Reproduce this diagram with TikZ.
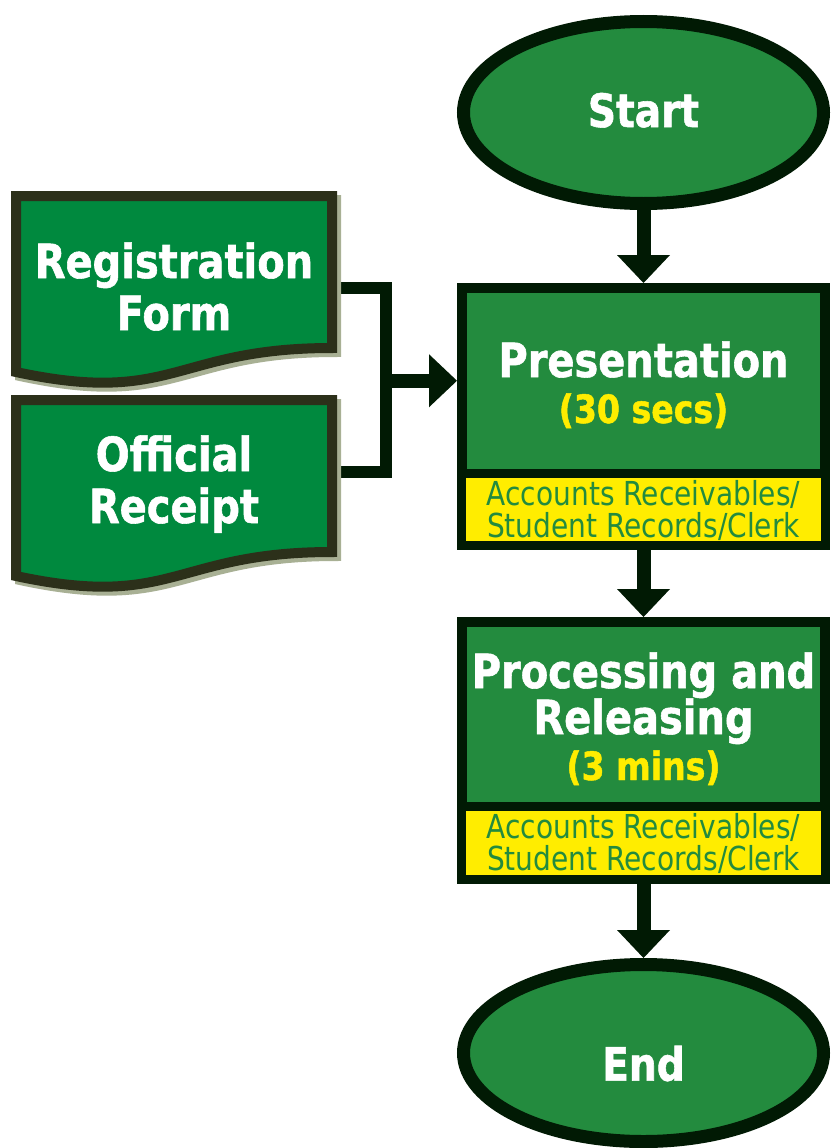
\documentclass[tikz,border=0pt]{standalone}
\usepackage{fontspec}
\newfontfamily\flowfont[FakeStretch=0.85]{DejaVu Sans}
\newfontfamily\flowbold[FakeStretch=0.85, FakeBold=1.2]{DejaVu Sans Bold}
\usetikzlibrary{arrows.meta,shapes.geometric,backgrounds}

\definecolor{procgreen}{RGB}{35,139,62}
\definecolor{docgreen}{RGB}{0,137,62}
\definecolor{edge}{RGB}{1,26,4}
\definecolor{docedge}{RGB}{44,48,26}
\definecolor{docshade}{RGB}{168,176,148}
\definecolor{roleyellow}{RGB}{255,237,0}

\newcommand\timetype{\flowbold\fontsize{39}{46}\selectfont}

\tikzset{
  terminal/.style={ellipse, draw=edge, line width=13pt, fill=procgreen,
    minimum width=360pt, minimum height=182pt, inner sep=0pt, text=white,
    font=\flowbold\fontsize{46}{46}\selectfont},
  procbox/.style={rectangle, draw=edge, line width=10pt, fill=procgreen,
    minimum width=363pt, inner sep=0pt, text=white, align=center,
    font=\flowbold\fontsize{47}{46}\selectfont},
  rolebox/.style={rectangle, draw=edge, line width=9pt, fill=roleyellow,
    minimum width=364pt, inner sep=0pt, text=procgreen, align=center,
    font=\flowfont\fontsize{33}{32}\selectfont},
  docbody/.style={rectangle, minimum width=316pt, minimum height=184pt,
    inner sep=0pt, outer sep=0pt, text=white, align=center,
    font=\flowbold\fontsize{47}{52}\selectfont},
  docframe/.style={draw=docedge, fill=docgreen, line width=10pt, line join=miter},
  docshadow/.style={draw=docshade, fill=docshade, line width=10pt, line join=miter,
    transform canvas={shift={(4pt,-4pt)}}},
  link/.style={draw=edge, line width=12pt, line join=miter},
  flow/.style={draw=edge, line width=14pt,
    -{Triangle[length=28pt, width=53pt, line width=0pt]}},
}

\begin{document}
\begin{tikzpicture}[x=1pt, y=-1pt]
\useasboundingbox (0,0) rectangle (830,1148);

% main column
\node[terminal, text height=36pt, text depth=7pt] (start) at (643.5,112.5) {Start};
\node[procbox, minimum height=185.5pt, text height=92.5pt, text depth=8pt]
  (pres) at (643.5,380.75)
  {Presentation\\{\timetype\color{roleyellow}(30 secs)}};
\node[rolebox, minimum height=71.5pt, text height=61pt, text depth=6pt]
  (presrole) at (643.5,509.5)
  {Accounts Receivables/\\Student Records/Clerk};
\node[procbox, minimum height=184.5pt, text height=139.5pt, text depth=8pt]
  (proc) at (643.5,714.25)
  {Processing and\\Releasing\\{\timetype\color{roleyellow}(3 mins)}};
\node[rolebox, minimum height=72.5pt, text height=60pt, text depth=6pt]
  (procrole) at (643.5,843)
  {Accounts Receivables/\\Student Records/Clerk};
\node[terminal, minimum height=177pt, text height=60pt, text depth=4.6pt]
  (end) at (643.5,1053) {End};

% input documents
\node[docbody, text height=92pt, text depth=8pt] (reg) at (174,288)
  {Registration\\Form};
\node[docbody, text height=72pt, text depth=10pt] (rcpt) at (174,492)
  {Official\\Receipt};

\path (pres.west) ++(-71pt,0pt) coordinate (join);

\begin{scope}[on background layer]
  \fill[white] (0,0) rectangle (830,1148);
  % documents merge into the presentation step
  \draw[link] (reg.east) -| (join) |- ([yshift=20pt]rcpt.east);
  \draw[flow] (join) -- (pres.west);
  \draw[flow] (start.south) -- (pres.north);
  \draw[flow] (presrole.south) -- (proc.north);
  \draw[flow] (procrole.south) -- (end.north);
  % document outlines with a wavy lower edge
  \foreach \d in {reg,rcpt} {
    \draw[docshadow] (\d.north west) -- (\d.north east)
      -- ([yshift=-152pt]\d.north east)
      .. controls ([yshift=-152pt]\d.north) and ([yshift=-210pt]\d.north)
      .. ([yshift=-176pt]\d.north west) -- cycle;
    \draw[docframe] (\d.north west) -- (\d.north east)
      -- ([yshift=-152pt]\d.north east)
      .. controls ([yshift=-152pt]\d.north) and ([yshift=-210pt]\d.north)
      .. ([yshift=-176pt]\d.north west) -- cycle;
  }
\end{scope}
\end{tikzpicture}
\end{document}
